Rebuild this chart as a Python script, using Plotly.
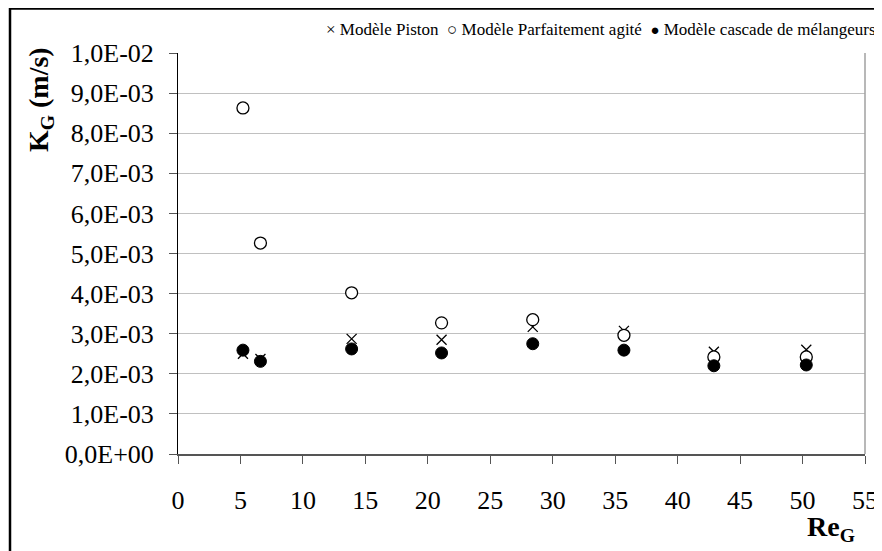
import plotly.graph_objects as go

# Re_G values and K_G (m/s) for each model
re_g = [5.2, 6.6, 13.9, 21.1, 28.4, 35.7, 42.9, 50.3]
kg_piston = [2.50e-3, 2.37e-3, 2.87e-3, 2.85e-3, 3.17e-3, 3.07e-3, 2.55e-3, 2.60e-3]
kg_agite = [8.63e-3, 5.26e-3, 4.02e-3, 3.27e-3, 3.35e-3, 2.96e-3, 2.42e-3, 2.42e-3]
kg_cascade = [2.59e-3, 2.31e-3, 2.62e-3, 2.52e-3, 2.75e-3, 2.59e-3, 2.20e-3, 2.22e-3]

y_ticks = [i * 1e-3 for i in range(11)]
y_labels = ['0,0E+00'] + ['%d,0E-03' % i for i in range(1, 10)] + ['1,0E-02']
x_ticks = list(range(0, 60, 5))

serif = "'Liberation Serif', 'Times New Roman', serif"

# the page body adds 8px around the figure, so the figure is a bit smaller
W, H = 874, 543
L, R, T, B = 170, 17, 45, 97
pw, ph = W - L - R, H - T - B


def px(x):
    return (x - L) / pw


def py(y):
    return (H - B - y) / ph


fig = go.Figure()

fig.add_trace(go.Scatter(x=re_g, y=kg_piston, mode='markers', name='Modèle Piston',
                         marker=dict(symbol='x-thin-open', size=10, color='black',
                                     line=dict(color='black', width=1.3))))
fig.add_trace(go.Scatter(x=re_g, y=kg_agite, mode='markers', name='Modèle Parfaitement agité',
                         marker=dict(symbol='circle', size=12, color='white',
                                     line=dict(color='black', width=1.3))))
fig.add_trace(go.Scatter(x=re_g, y=kg_cascade, mode='markers', name='Modèle cascade de mélangeurs',
                         marker=dict(symbol='circle', size=12, color='black',
                                     line=dict(color='black', width=1))))

# outer frame of the chart (right and bottom edges fall outside the picture)
fig.add_shape(type='rect', xref='paper', yref='paper',
              x0=px(2), x1=px(W + 20), y0=py(H + 20), y1=py(0.5),
              line=dict(color='black', width=2.5))

fig.update_layout(
    width=W,
    height=H,
    margin=dict(l=L, r=R, t=T, b=B, autoexpand=False),
    plot_bgcolor='white',
    paper_bgcolor='white',
    font=dict(family=serif, size=26, color='black'),
    showlegend=False,
    xaxis=dict(range=[0, 55], tickvals=x_ticks, ticks='outside', ticklen=8,
               tickcolor='#555555', showline=True, linecolor='#555555', linewidth=2,
               showgrid=False, zeroline=False, ticklabelstandoff=14,
               automargin=False, tickfont=dict(family=serif, size=26)),
    yaxis=dict(range=[0, 0.01], tickvals=y_ticks, ticktext=y_labels, ticks='outside',
               ticklen=8, tickcolor='#555555', showline=True, linecolor='black', linewidth=1,
               showgrid=True, gridcolor='#c0c0c0', gridwidth=1, zeroline=False,
               automargin=False, ticklabelstandoff=10,
               tickfont=dict(family=serif, size=26)),
)

# right border of plot area
fig.add_shape(type='line', xref='paper', yref='paper', x0=1, x1=1, y0=0, y1=1,
              line=dict(color='#a0a0a0', width=1.5))

# axis titles
fig.add_annotation(text='<b>K<sub>G</sub> (m/s)</b>', xref='paper', yref='paper',
                   x=px(32), y=py(92), textangle=-90, showarrow=False,
                   font=dict(family=serif, size=28), xanchor='center', yanchor='middle')
fig.add_annotation(text='<b>Re<sub>G</sub></b>', xref='paper', yref='paper',
                   x=px(849), y=py(520), showarrow=False,
                   font=dict(family=serif, size=28), xanchor='right', yanchor='middle')

# legend line along the top
gap = '\u00a0\u00a0'
legend_text = ('×\u00a0Modèle Piston' + gap +
               '○\u00a0Modèle Parfaitement agité' + gap +
               '<span style="font-size:15px">●</span>\u00a0Modèle cascade de mélangeurs')
fig.add_annotation(text=legend_text, xref='paper', yref='paper',
                   x=px(870), y=py(22), showarrow=False,
                   font=dict(family=serif, size=17), xanchor='right', yanchor='middle')

fig.write_html("out.html")
